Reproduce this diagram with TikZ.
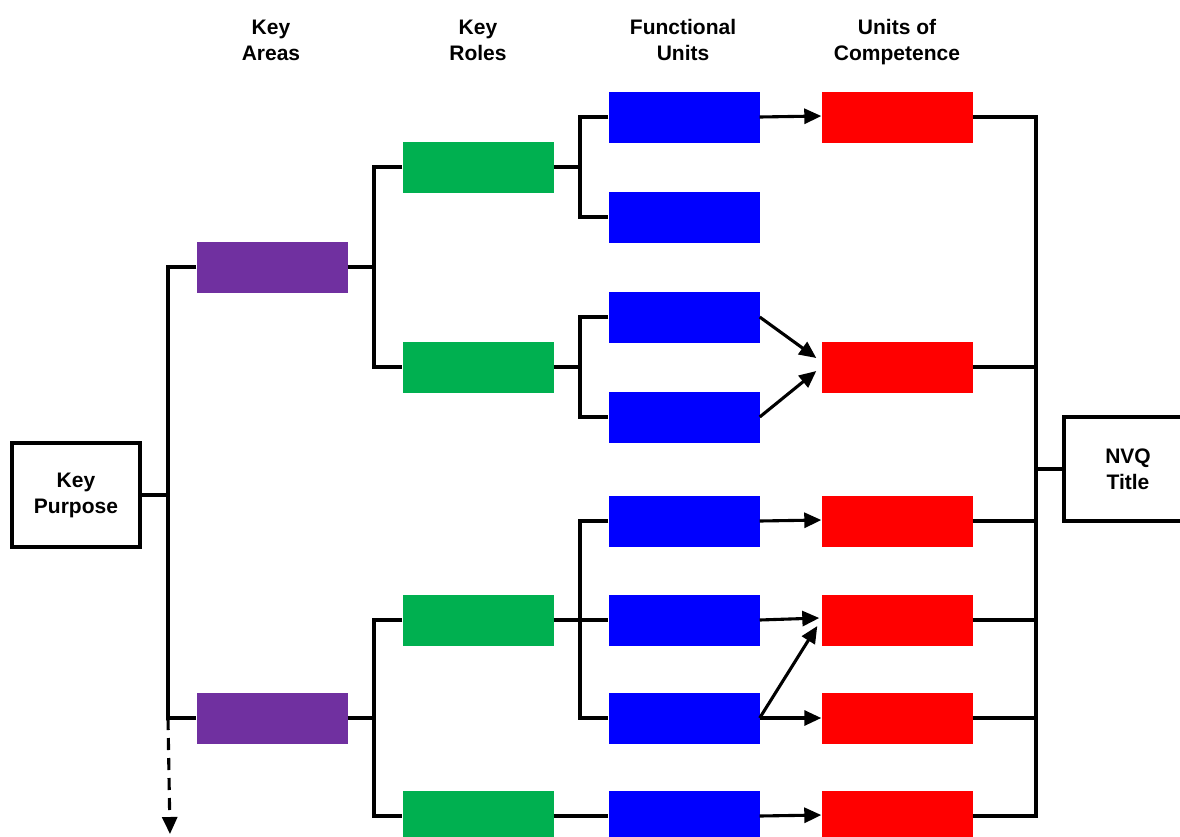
\documentclass[tikz,border=0pt]{standalone}
\usepackage{fontspec}
\setmainfont{Liberation Sans}
\usetikzlibrary{arrows.meta,calc}
\definecolor{areacol}{HTML}{7030A0}
\definecolor{rolecol}{HTML}{00B050}
\definecolor{unitcol}{HTML}{0000FF}
\definecolor{compcol}{HTML}{FF0000}
\begin{document}
\begin{tikzpicture}[x=1pt,y=-1pt,
  lbl/.style={font=\bfseries\fontsize{21}{26}\selectfont,align=center,inner sep=0pt},
  block/.style={minimum width=151pt,minimum height=51pt,inner sep=0pt,draw=none},
  area/.style={block,fill=areacol},
  role/.style={block,fill=rolecol},
  unit/.style={block,fill=unitcol},
  comp/.style={block,fill=compcol},
  framebox/.style={draw,line width=3.3pt,minimum width=128pt,minimum height=104pt,inner sep=0pt,
    font=\bfseries\fontsize{21}{26}\selectfont,align=center},
  wire/.style={line width=3.1pt,line join=miter},
  arr/.style={line width=3.1pt,-{Triangle[length=17pt,width=15pt]}},
  dasharr/.style={line width=3.1pt,dash pattern=on 12pt off 8pt,-{Triangle[length=17pt,width=15pt]}}]
\useasboundingbox (0,0) rectangle (1180,836);
\clip (0,0) rectangle (1180,836);

% column headings
\node[lbl] (h1) at (271,40) {Key\\Areas};
\node[lbl] (h2) at (478,40) {Key\\Roles};
\node[lbl] (h3) at (683,40) {Functional\\Units};
\node[lbl] (h4) at (897,42) {Units of\\Competence};

% end boxes
\node[framebox] (kp) at (76,495) {Key\\Purpose};
\node[framebox] (nvq) at (1128,469) {NVQ\\Title};

% key areas
\node[area] (a1) at (272,267) {};
\node[area] (a2) at (272,718) {};

% key roles
\node[role] (g1) at (478,167) {};
\node[role] (g2) at (478,367) {};
\node[role] (g3) at (478,620) {};
\node[role] (g4) at (478,816) {};

% functional units
\node[unit] (b1) at (684,117) {};
\node[unit] (b2) at (684,217) {};
\node[unit] (b3) at (684,317) {};
\node[unit] (b4) at (684,417) {};
\node[unit] (b5) at (684,521) {};
\node[unit] (b6) at (684,620) {};
\node[unit] (b7) at (684,718) {};
\node[unit] (b8) at (684,816) {};

% units of competence
\node[comp] (r1) at (897,117) {};
\node[comp] (r2) at (897,367) {};
\node[comp] (r3) at (897,521) {};
\node[comp] (r4) at (897,620) {};
\node[comp] (r5) at (897,718) {};
\node[comp] (r6) at (897,816) {};

% bus lines
\coordinate (s0) at (168,0);
\coordinate (s1) at (374,0);
\coordinate (s2) at (580,0);
\coordinate (s3) at (1036,0);
\coordinate (down) at (170,834);

% key purpose -> key areas
\draw[wire] (kp.east) -- (kp.east -| s0);
\draw[wire] (a1.west) -- (a1.west -| s0) -- (a2.west -| s0) -- (a2.west);
\draw[dasharr] (a2.west -| s0) -- (down);

% key areas -> key roles
\draw[wire] (a1.east) -- (a1.east -| s1);
\draw[wire] (g1.west) -- (g1.west -| s1) -- (g2.west -| s1) -- (g2.west);
\draw[wire] (a2.east) -- (a2.east -| s1);
\draw[wire] (g3.west) -- (g3.west -| s1) -- (g4.west -| s1) -- (g4.west);

% key roles -> functional units
\draw[wire] (g1.east) -- (g1.east -| s2);
\draw[wire] (b1.west) -- (b1.west -| s2) -- (b2.west -| s2) -- (b2.west);
\draw[wire] (g2.east) -- (g2.east -| s2);
\draw[wire] (b3.west) -- (b3.west -| s2) -- (b4.west -| s2) -- (b4.west);
\draw[wire] (b5.west) -- (b5.west -| s2) -- (b7.west -| s2) -- (b7.west);
\draw[wire] (g3.east) -- (b6.west);
\draw[wire] (g4.east) -- (b8.west);

% functional units -> units of competence
\draw[arr] (b1.east) -- ($(r1.west)+(0,-1)$);
\draw[arr] (b3.east) -- ($(r2.west)+(-5,-9)$);
\draw[arr] (b4.east) -- ($(r2.west)+(-5,4)$);
\draw[arr] (b5.east) -- ($(r3.west)+(0,-1)$);
\draw[arr] (b6.east) -- ($(r4.west)+(-2,-2)$);
\draw[arr] (b7.east) -- ($(r4.west)+(-4,6)$);
\draw[arr] (b7.east) -- (r5.west);
\draw[arr] (b8.east) -- ($(r6.west)+(0,-1)$);

% units of competence -> NVQ title
\draw[wire] (r1.east) -- (r1.east -| s3) -- (r6.east -| s3) -- (r6.east);
\draw[wire] (r2.east) -- (r2.east -| s3);
\draw[wire] (r3.east) -- (r3.east -| s3);
\draw[wire] (r4.east) -- (r4.east -| s3);
\draw[wire] (r5.east) -- (r5.east -| s3);
\draw[wire] (nvq.west -| s3) -- (nvq.west);
\end{tikzpicture}
\end{document}
